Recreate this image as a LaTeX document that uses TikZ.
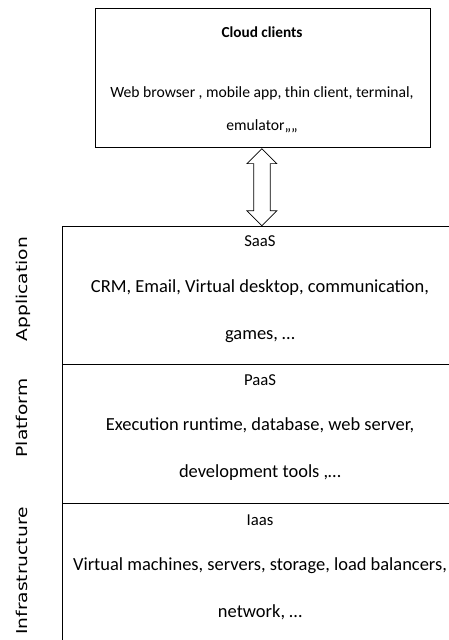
\documentclass[tikz,border=0pt]{standalone}
\usepackage{fontspec}
\setmainfont{Carlito}
\newfontfamily\sidefont{DejaVu Sans}
\usetikzlibrary{shapes.arrows,calc}
\tikzset{box/.style={draw,thick,anchor=north west,inner sep=0pt},
         title/.style={font=\fontsize{9.5}{11}\selectfont},
         items/.style={align=center,font=\fontsize{10.5}{27}\selectfont},
         side/.style={rotate=90,xscale=1.25,font=\sidefont\fontsize{8.5}{10}\selectfont},
         twoway/.style={draw,double arrow,shape border rotate=90,inner xsep=4.5pt,inner ysep=0pt,
                        double arrow head extend=3.8pt}
         }
\begin{document}
\begin{tikzpicture}[x=0.02cm,y=-0.02cm]
\useasboundingbox (0,0) rectangle (449,640);
% client box
\node[box,minimum width=6.7cm,minimum height=2.78cm] (clients) at (95,8) {};
\node[title,font=\bfseries\fontsize{8.7}{10}\selectfont] (cctitle) at (262,32) {Cloud clients};
\node[items,font=\fontsize{8.9}{19}\selectfont] (cctext) at (262,110)
  {Web browser , mobile app, thin client, terminal,\\ emulator,,,,};
% service layers
\node[box,minimum width=7.92cm,minimum height=2.76cm] (saas) at (62,226) {};
\node[box,minimum width=7.92cm,minimum height=2.78cm] (paas) at (62,364) {};
\node[box,minimum width=7.92cm,minimum height=3.2cm] (iaas) at (62,503) {};
\node[title] (saastitle) at (260,241) {SaaS};
\node[items] (saastext) at (260,311) {CRM, Email, Virtual desktop, communication,\\ games, \dots};
\node[title] (paastitle) at (260,380) {PaaS};
\node[items] (paastext) at (260,449) {Execution runtime, database, web server,\\ development tools ,\dots};
\node[title] (iaastitle) at (260,520) {Iaas};
\node[items] (iaastext) at (260,589) {Virtual machines, servers, storage, load balancers,\\ network, \dots};
% left labels
\node[side] (app) at (23,289) {Application};
\node[side] (plat) at (22,418) {Platform};
\node[side] (infra) at (22,571) {Infrastructure};
% arrow
\node[twoway,minimum height=77*0.02cm] (link) at ($(clients.south)!0.5!(saas.north)$) {};
\end{tikzpicture}
\end{document}
